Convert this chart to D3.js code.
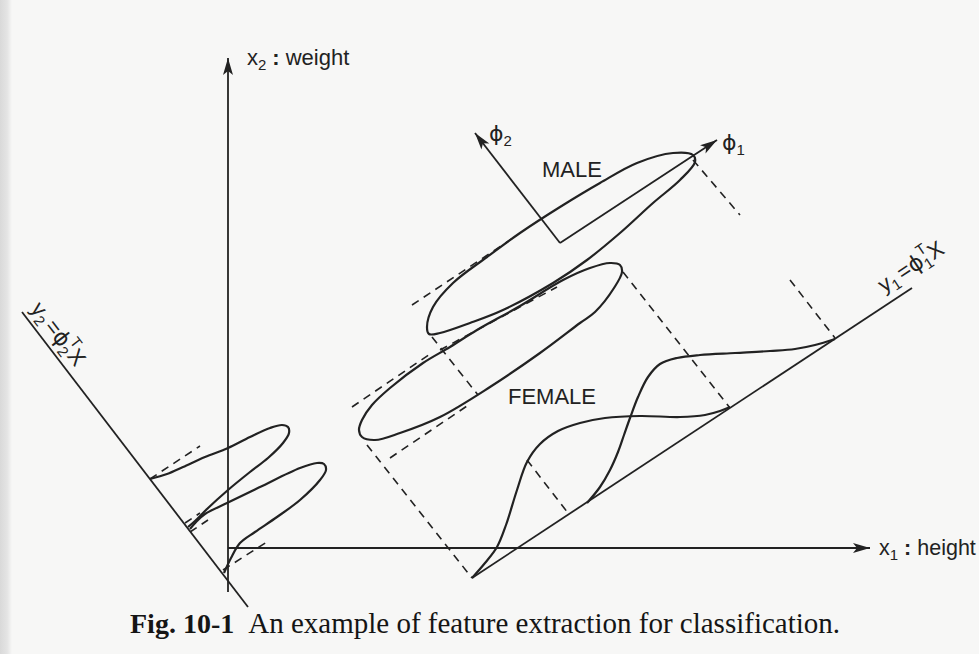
<!DOCTYPE html>
<html>
<head>
<meta charset="utf-8">
<script src="https://cdn.jsdelivr.net/npm/d3@7"></script>
<style>
  body { margin: 0; background: #f7f7f6; }
  svg { display: block; }
</style>
</head>
<body>
<svg id="fig"></svg>
<script>
// Page size of the scanned figure
var width = 979,
  height = 654;

// Feature space: x1 = height, x2 = weight (arbitrary units)
var x1Max = 64.2,
  x2Max = 49,
  x2Min = -4.4;

// Outlines of the two class clusters, [x1, x2]
var maleOutline = [
  [19.9, 22.1], [20.5, 24.1], [22.5, 26.5], [25.9, 29.1], [29.2, 31.5], [33.2, 34.1],
  [37.2, 36.5], [40.9, 38.5], [44.5, 39.5], [46.5, 39.3], [46.7, 38.6], [45.2, 36.8],
  [42.5, 34.5], [39.2, 31.5], [35.9, 28.8], [32.5, 26.5], [27.5, 23.8], [24.2, 22.5],
  [21.2, 21.5], [20.1, 21.4]
];
var femaleOutline = [
  [13.1, 11.8], [13.4, 12.8], [14.4, 14.3], [16.2, 16.0], [19.5, 18.5], [22.2, 20.1],
  [24.9, 21.8], [29.2, 24.2], [33.5, 26.8], [36.2, 28.0], [38.2, 28.5], [39.2, 28.3],
  [39.4, 27.6], [38.6, 26.0], [36.7, 23.6], [35.2, 22.5], [31.2, 19.5], [26.2, 16.1],
  [21.2, 13.1], [17.2, 11.5], [14.7, 10.8], [13.4, 11.1]
];

// Densities projected on y1 = phi1'X
var femaleOnY1 = [
  [24.4, -3.0], [25.7, -1.5], [26.9, 0.1], [27.8, 2.3], [28.9, 5.8], [29.9, 8.6],
  [31.2, 10.4], [33.0, 11.7], [35.2, 12.5], [37.7, 13.0], [41.2, 13.2], [45.2, 13.1],
  [47.7, 13.3], [49.2, 13.7], [50.2, 14.1]
];
var maleOnY1 = [
  [35.9, 4.5], [37.2, 6.1], [38.2, 7.8], [39.0, 9.6], [39.6, 11.3], [40.2, 13.0],
  [41.0, 15.1], [42.0, 17.1], [43.2, 18.4], [44.9, 19.0], [47.2, 19.3], [50.7, 19.5],
  [54.2, 19.7], [56.7, 19.9], [58.7, 20.3], [60.7, 20.9]
];

// Densities projected on y2 = phi2'X
var maleOnY2 = [
  [-7.8, 6.9], [-6.1, 7.4], [-4.5, 8.1], [-2.3, 9.1], [0.0, 10.0], [2.2, 11.1],
  [4.2, 12.0], [5.4, 12.3], [6.0, 12.1], [6.1, 11.5], [5.5, 10.5], [4.0, 9.0],
  [2.2, 7.6], [0.0, 5.8], [-2.1, 3.9], [-3.3, 2.7], [-4.0, 2.1]
];
var femaleOnY2 = [
  [-3.8, 1.9], [-3.1, 2.7], [-2.3, 3.4], [-0.1, 4.5], [3.2, 6.1], [7.2, 8.0],
  [8.9, 8.5], [9.6, 8.4], [9.8, 7.8], [9.2, 6.8], [7.2, 4.8], [4.9, 3.1],
  [2.7, 1.6], [1.2, 0.5], [0.3, -1.0], [-0.4, -2.5]
];

// New axes and the phi frame
var y1Axis = [[24.4, -3.0], [68.4, 26.0]];
var y2Axis = [[-20.6, 23.6], [2.0, -5.9]];
var phiOrigin = [33.2, 30.5],
  phi1Tip = [48.9, 40.8],
  phi2Tip = [24.7, 41.5];

// Dashed projection guides, [from, to]
var guides = [
  [[-7.8, 6.9], [-2.8, 10.2]],
  [[18.4, 24.3], [28.5, 31.0]],
  [[12.4, 14.1], [20.5, 19.6]],
  [[21.2, 19.8], [32.9, 26.1]],
  [[-4.3, 2.5], [-2.8, 3.5]],
  [[-3.8, 1.6], [-2.0, 2.8]],
  [[-0.5, -2.2], [4.2, 0.8]],
  [[16.2, 9.0], [24.2, 14.4]],
  [[20.4, 21.1], [25.0, 15.3]],
  [[29.9, 8.8], [34.0, 3.5]],
  [[13.9, 10.3], [24.4, -3.0]],
  [[39.5, 27.6], [50.2, 14.0]],
  [[46.5, 38.8], [51.2, 33.3]],
  [[56.2, 26.8], [60.7, 21.0]]
];

var ink = "#222";
var sans = "'Liberation Sans', Arial, Helvetica, sans-serif";

var svg = d3.select("#fig")
  .attr("width", width)
  .attr("height", height);

// scales, same pixels per unit on both axes
var x = d3.scaleLinear().domain([0, 64]).range([228, 868]);
var y = d3.scaleLinear().domain([0, 49]).range([548, 58]);

var defs = svg.append("defs");

// grey edge of the scanned page
var grad = defs.append("linearGradient").attr("id", "edge");
grad.append("stop").attr("offset", "0").attr("stop-color", "#d9d9d9");
grad.append("stop").attr("offset", "0.6").attr("stop-color", "#e4e4e4");
grad.append("stop").attr("offset", "1").attr("stop-color", "#f7f7f6");
svg.append("rect").attr("width", width).attr("height", height).attr("fill", "#f7f7f6");
svg.append("rect").attr("width", 12).attr("height", height).attr("fill", "url(#edge)");

defs.append("marker")
  .attr("id", "arrow")
  .attr("viewBox", "-18 -6 19 12")
  .attr("refX", 0)
  .attr("refY", 0)
  .attr("markerWidth", 19)
  .attr("markerHeight", 12)
  .attr("markerUnits", "userSpaceOnUse")
  .attr("orient", "auto")
  .append("path")
  .attr("d", "M0,0 L-17,-5 L-13,0 L-17,5 Z")
  .attr("fill", ink);

// straight segments
var line = d3.line()
  .x(function(d) { return x(d[0]); })
  .y(function(d) { return y(d[1]); });

function seg(a, b) {
  return line([a, b]);
}

// smooth curves through the traced points
var smoothClosed = d3.line()
  .x(function(d) { return x(d[0]); })
  .y(function(d) { return y(d[1]); })
  .curve(d3.curveCatmullRomClosed);

var smoothOpen = d3.line()
  .x(function(d) { return x(d[0]); })
  .y(function(d) { return y(d[1]); })
  .curve(d3.curveCatmullRom);

// Original axes
svg.append("path")
  .attr("d", seg([0, 0], [x1Max, 0]))
  .attr("stroke", ink).attr("stroke-width", 1.8).attr("marker-end", "url(#arrow)");
svg.append("path")
  .attr("d", seg([0, x2Min], [0, x2Max]))
  .attr("stroke", ink).attr("stroke-width", 1.8).attr("marker-end", "url(#arrow)");

// y1 and y2 axes
svg.append("path").attr("d", line(y1Axis)).attr("stroke", ink).attr("stroke-width", 1.8);
svg.append("path").attr("d", line(y2Axis)).attr("stroke", ink).attr("stroke-width", 1.8);

// Dashed guides
svg.selectAll(".guide")
  .data(guides)
  .enter().append("path")
  .attr("class", "guide")
  .attr("d", function(d) { return seg(d[0], d[1]); })
  .attr("stroke", ink)
  .attr("stroke-width", 1.6)
  .attr("stroke-dasharray", "8,6");

// Class outlines
svg.selectAll(".cluster")
  .data([maleOutline, femaleOutline])
  .enter().append("path")
  .attr("class", "cluster")
  .attr("d", function(d) { return smoothClosed(d); })
  .attr("fill", "none")
  .attr("stroke", ink)
  .attr("stroke-width", 2.2);

// Projected densities
svg.selectAll(".density")
  .data([femaleOnY1, maleOnY1, maleOnY2, femaleOnY2])
  .enter().append("path")
  .attr("class", "density")
  .attr("d", function(d) { return smoothOpen(d); })
  .attr("fill", "none")
  .attr("stroke", ink)
  .attr("stroke-width", 2.2);

// phi frame
svg.append("path")
  .attr("d", seg(phiOrigin, phi1Tip))
  .attr("stroke", ink).attr("stroke-width", 1.8).attr("marker-end", "url(#arrow)");
svg.append("path")
  .attr("d", seg(phiOrigin, phi2Tip))
  .attr("stroke", ink).attr("stroke-width", 1.8).attr("marker-end", "url(#arrow)");

// Labels
function label(u, v, size) {
  return svg.append("text")
    .attr("x", x(u))
    .attr("y", y(v))
    .style("font-family", sans)
    .style("font-size", size + "px")
    .style("fill", ink);
}

var lx2 = label(1.9, 48.3, 22);
lx2.append("tspan").text("x");
lx2.append("tspan").attr("dy", 5).style("font-size", "15px").text("2");
lx2.append("tspan").attr("dx", 6).attr("dy", -5).style("font-weight", "bold").text(":");
lx2.append("tspan").attr("dx", 6).text("weight");

var lx1 = label(65.1, -0.7, 21.5);
lx1.append("tspan").text("x");
lx1.append("tspan").attr("dy", 5).style("font-size", "15px").text("1");
lx1.append("tspan").attr("dx", 6).attr("dy", -5).style("font-weight", "bold").text(":");
lx1.append("tspan").attr("dx", 6).text("height");

label(31.4, 37.1, 22).text("MALE");
label(28.0, 14.4, 22).text("FEMALE");

var phiFont = "'DejaVu Sans', 'Liberation Sans', sans-serif";
var lp1 = label(49.4, 39.8, 22);
lp1.append("tspan").style("font-family", phiFont).text("\u03d5");
lp1.append("tspan").attr("dy", 5).style("font-size", "15px").text("1");
var lp2 = label(26.1, 40.7, 22);
lp2.append("tspan").style("font-family", phiFont).text("\u03d5");
lp2.append("tspan").attr("dy", 5).style("font-size", "15px").text("2");

// rotated labels of the new axes
function axisLabel(u, v, angle, k) {
  var t = svg.append("text")
    .attr("transform", "translate(" + x(u) + "," + y(v) + ") rotate(" + angle + ")")
    .style("font-family", sans)
    .style("font-size", "22px")
    .style("fill", ink);
  t.append("tspan").text("y");
  t.append("tspan").attr("dy", 5).style("font-size", "15px").text(k);
  t.append("tspan").attr("dx", 3).attr("dy", -5).text("=");
  t.append("tspan").style("font-family", phiFont).text("\u03d5");
  t.append("tspan").attr("dy", 5).style("font-size", "15px").text(k);
  t.append("tspan").attr("dx", -8).attr("dy", -16).style("font-size", "15px").text("T");
  t.append("tspan").attr("dy", 11).text("X");
}
axisLabel(65.6, 25.5, -33.4, "1");
axisLabel(-19.8, 23.9, 52.4, "2");

// Caption
var cap = svg.append("text")
  .attr("x", 130)
  .attr("y", 633)
  .style("font-family", "'Liberation Serif', 'Times New Roman', serif")
  .style("font-size", "29px")
  .style("fill", "#151515");
cap.append("tspan").style("font-weight", "bold").style("font-size", "28px").text("Fig. 10-1");
cap.append("tspan").attr("dx", 14).text("An example of feature extraction for classification.");
</script>
</body>
</html>
